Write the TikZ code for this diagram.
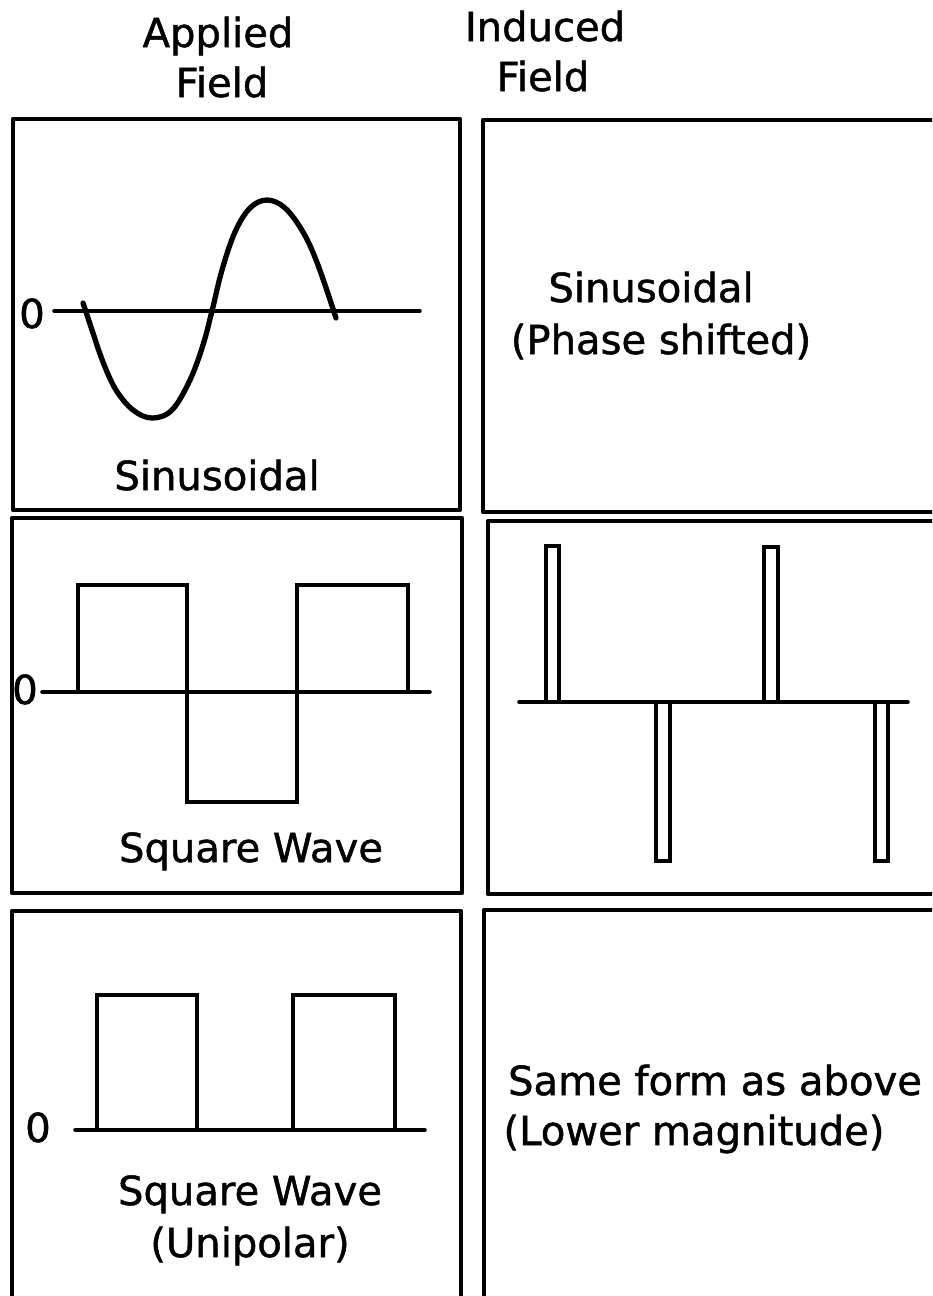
\documentclass[tikz,border=0pt]{standalone}
\usepackage{fontspec}
\setmainfont{DejaVu Sans}[UprightFeatures={FakeBold=1.2}]
\usetikzlibrary{positioning}

\begin{document}
\begin{tikzpicture}[
            x=0.01cm, y=-0.01cm,
            panel/.style={draw, line width=1.2pt, line join=round},
            axisline/.style={line width=1pt, line cap=round},
            wave/.style={line width=1pt, line join=miter},
            sine/.style={line width=1.5pt, line cap=round, line join=round},
            spike/.style={draw, line width=0.9pt},
            txt/.style={font=\fontsize{11.4}{14}\selectfont, inner sep=0pt, anchor=base}
        ]
\useasboundingbox (0,0) rectangle (932,1296);
\clip (0,0) rectangle (932,1296);

% Headings
            \node[txt] (appTop) at (218,47) {Applied};
            \node[txt] (appBot) at (222,97) {Field};
            \node[txt] (indTop) at (545,41) {Induced};
            \node[txt] (indBot) at (543,91) {Field};

% Panels
            \draw[panel] (13,119) rectangle (460,510);
            \draw[panel] (12,518) rectangle (462,893);
            \draw[panel] (12,911) rectangle (461,1320);
            \draw[panel] (483,120) rectangle (960,512);
            \draw[panel] (488,521) rectangle (960,894);
            \draw[panel] (484,910) rectangle (960,1320);

% Sinusoidal
            \node[txt] (zeroA) at (32,328) {0};
            \draw[axisline] (54,311) -- (420,311);
            \draw[sine] plot[smooth, tension=0.6] coordinates {(83,303) (92,330) (103,362) (116,390) (133,410) (152,418) (172,410) (190,380) (203,345) (212,311) (222,270) (235,232) (250,208) (267,200) (285,208) (303,232) (318,265) (336,318)};
            \node[txt] (sinA) at (217,490) {Sinusoidal};
            \node[txt] (sinB) at (651,302) {Sinusoidal};
            \node[txt] (sinC) at (661,354) {(Phase shifted)};

% Square wave
            \node[txt] (zeroB) at (25,704) {0};
            \draw[axisline] (42,692) -- (430,692);
            \draw[wave] (78,692) -- (78,585) -- (187,585) -- (187,802) -- (297,802) -- (297,585) -- (408,585) -- (408,692);
            \node[txt] (sqA) at (251,862) {Square Wave};
            \draw[axisline] (519,702) -- (908,702);
            \draw[spike] (546,702) rectangle (559,546);
            \draw[spike] (764,702) rectangle (778,547);
            \draw[spike] (656,702) rectangle (670,861);
            \draw[spike] (875,702) rectangle (888,861);

% Unipolar
            \node[txt] (zeroC) at (38,1142) {0};
            \draw[axisline] (75,1130) -- (425,1130);
            \draw[wave] (97,1130) -- (97,995) -- (197,995) -- (197,1130);
            \draw[wave] (293,1130) -- (293,995) -- (395,995) -- (395,1130);
            \node[txt] (uniTop) at (250,1205) {Square Wave};
            \node[txt] (uniBot) at (250,1257) {(Unipolar)};
            \node[txt] (lowTop) at (715,1095) {Same form as above};
            \node[txt] (lowBot) at (694,1145) {(Lower magnitude)};

        \end{tikzpicture}
\end{document}
